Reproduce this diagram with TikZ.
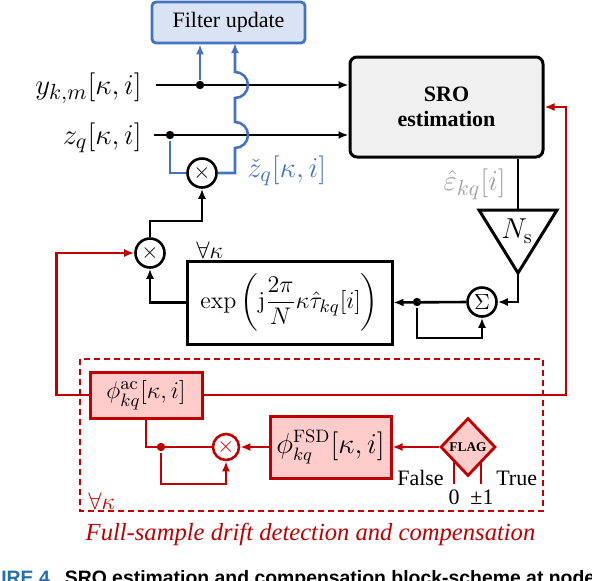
\documentclass[tikz,border=0pt]{standalone}
\usepackage{amsmath}
\usepackage[no-math]{fontspec}
\setmainfont{Liberation Serif}
\newfontfamily\capfont{Liberation Sans}
\usetikzlibrary{arrows.meta,shapes.geometric,calc}

\definecolor{fblue}{RGB}{68,114,196}
\definecolor{fbluefill}{RGB}{218,227,243}
\definecolor{sgray}{RGB}{240,240,240}
\definecolor{dred}{RGB}{192,0,0}
\definecolor{pinkfill}{RGB}{255,204,204}
\definecolor{epsgray}{RGB}{160,160,160}
\definecolor{capblue}{RGB}{35,110,180}

\begin{document}
\begin{tikzpicture}[x=0.5pt,y=0.5pt,line width=1.3pt,
  arr/.style={-{Latex[length=5pt,width=4pt]}},
  opc/.style={circle,draw,line width=1.3pt,minimum size=14.5pt,inner sep=0pt,font=\fontsize{11}{13}\selectfont},
  dotn/.style={circle,fill,minimum size=4.2pt,inner sep=0pt},
  lab/.style={inner sep=0pt,font=\fontsize{15}{17}\selectfont},
  bxm/.style={font=\fontsize{12.8}{14}\selectfont},
  txt/.style={inner sep=0pt,font=\fontsize{11}{13}\selectfont},
  bline/.style={draw=fblue,line width=1.3pt},
  rline/.style={draw=dred,line width=1.3pt}]

\useasboundingbox (0,0) rectangle (592,-580);

% ---------- top blocks
\node[draw=fblue,fill=fbluefill,line width=1.4pt,rounded corners=2pt,minimum width=76.5pt,minimum height=20.5pt,font=\fontsize{11}{13}\selectfont] (fu) at (228.5,-22.5) {Filter update};
\node[draw,fill=sgray,line width=1.5pt,rounded corners=3.5pt,minimum width=96.5pt,minimum height=50pt,font=\fontsize{11}{12.5}\selectfont\bfseries,align=center] (sro) at (446.5,-107) {SRO\\estimation};

% ---------- inputs
\node[lab,anchor=east] (ylab) at (143,-88) {$y_{k,m}[\kappa,i]$};
\node[lab,anchor=east] (zlab) at (143,-137.5) {$z_q[\kappa,i]$};
\coordinate (ys) at (156,-85);
\coordinate (zs) at (154,-135);
\draw[arr] (ys) -- (ys -| sro.west);
\draw[arr] (zs) -- (zs -| sro.west);
\node[dotn] (ydot) at (200,-85) {};
\node[dotn] (zdot) at (170,-135) {};
\node[opc] (m1) at (202,-173) {$\times$};
\coordinate (fin) at (235,-43);
\draw[bline,arr] (ydot) -- (ydot |- fu.south);
\draw[bline] (zdot) |- (m1.west);
\draw[bline,arr] (m1.east) -| (235,-148) arc[start angle=-90,end angle=90,radius=6.5pt] -- (235,-98) arc[start angle=-90,end angle=90,radius=6.5pt] -- (fin);
\node[lab,anchor=west,text=fblue] (zc) at (246,-171) {$\check{z}_q[\kappa,i]$};

% ---------- middle loop
\node[opc] (m2) at (150,-253) {$\times$};
\draw[arr] (m2.north) -- (m2.north |- 0,-221) -| (m1.south);
\node[draw,line width=1.5pt,minimum width=102.5pt,minimum height=41.5pt,inner sep=0pt,font=\fontsize{12.8}{15}\selectfont] (ex) at (289.5,-302.5) {$\displaystyle\exp\left(\mathrm{j}\frac{2\pi}{N}\kappa\hat{\tau}_{kq}[i]\right)$};
\node[inner sep=0pt,anchor=west,font=\fontsize{12.5}{14}\selectfont] (fa) at (195,-250) {$\forall\kappa$};
\draw[arr] (ex.west) -| (m2.south);

\coordinate (tA) at (479,-210);
\coordinate (tB) at (557,-210);
\coordinate (tC) at (518,-273);
\coordinate (tT) at (518,-210);
\draw (tT |- sro.south) -- (tT);
\draw[line width=1.5pt,line join=miter] (tA) -- (tB) -- (tC) -- cycle;
\node[font=\fontsize{13.7}{15}\selectfont,inner sep=0pt] (ns) at (517,-231) {$N_\mathrm{s}$};
\node[lab,anchor=east,text=epsgray] (eps) at (507,-184.5) {$\hat{\varepsilon}_{kq}[i]$};
\node[opc] (sig) at (482,-302) {$\Sigma$};
\draw[arr] (tC) |- (sig.east);
\draw[arr] (sig.west) -- (ex.east);
\node[dotn] (d2) at (417,-302) {};
\draw[arr] (d2) -- (d2 |- 0,-338) -| (sig.south);

% ---------- red part
\draw[dred,line width=1pt,dash pattern=on 3pt off 2pt] (80,-359) rectangle (543,-511);
\node[draw=dred,fill=pinkfill,line width=1.5pt,minimum width=56pt,minimum height=23pt,inner sep=0pt,bxm] (ac) at (146,-395) {$\phi^{\mathrm{ac}}_{kq}[\kappa,i]$};
\draw[rline,arr] (ac.west) -- ++(-32,0) |- (m2.west);
\coordinate (rt) at (566,-107);
\draw[rline,arr] (ac.east) -| (rt) -- (sro.east);
\node[opc,draw=dred,text=dred,minimum size=13pt] (m3) at (226,-447) {$\times$};
\node[draw=dred,fill=pinkfill,line width=1.5pt,minimum width=60.5pt,minimum height=31pt,inner sep=0pt,font=\fontsize{13.5}{15}\selectfont] (fsd) at (330.5,-447) {$\phi^{\mathrm{FSD}}_{kq}[\kappa,i]$};
\draw[rline] (ac.south) |- (m3.west);
\node[dotn,fill=dred] (d3) at (161,-447) {};
\draw[rline,arr] (d3) -- (d3 |- 0,-484) -| (m3.south);
\draw[rline,arr] (fsd.west) -- (m3.east);

\coordinate (l0) at (454,-484);
\coordinate (l1) at (481,-484);
\draw[rline] (l0) -- ++(0,28);
\draw[rline] (l1) -- ++(0,28);
\node[diamond,draw=dred,fill=pinkfill,line width=1.4pt,minimum width=27.5pt,minimum height=29pt,inner sep=0pt,font=\fontsize{6.7}{7}\selectfont\bfseries] (flag) at (468,-447) {FLAG};
\draw[rline,arr] (flag.west) -- (fsd.east);
\node[txt,anchor=east] (fls) at (445,-478) {False};
\node[txt,anchor=west] (tru) at (495,-478) {True};
\node[txt] (z0) at (454,-497) {0};
\node[txt] (pm) at (482,-497) {±1};
\node[inner sep=0pt,anchor=west,text=dred,font=\fontsize{12.5}{14}\selectfont] (fa2) at (87,-501) {$\forall\kappa$};
\node[text=dred,inner sep=0pt,font=\fontsize{12.3}{14}\selectfont\itshape] (fs) at (310.5,-534) {Full-sample drift detection and compensation};

% ---------- caption (cut by the frame)
\begin{scope}
\clip (0,0) rectangle (592,-580);
\node[anchor=base west,inner sep=0pt,font=\capfont\bfseries\fontsize{9.7}{11}\selectfont] (cap) at (0,-584) {\textcolor{capblue}{IRE 4}\hspace{7.5pt}SRO estimation and compensation block-scheme at node};
\end{scope}
\end{tikzpicture}
\end{document}
